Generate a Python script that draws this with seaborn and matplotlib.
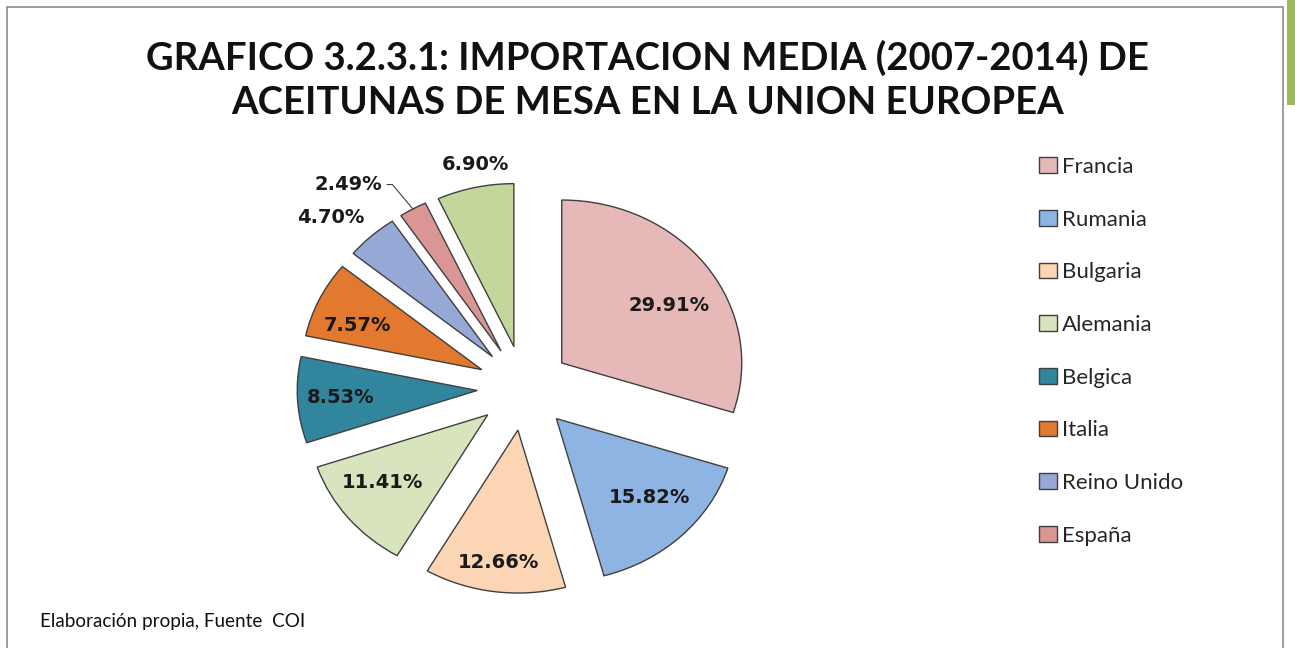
import numpy as np
import matplotlib.pyplot as plt
import matplotlib.patches as mpatches
import seaborn as sns

# data
paises = ["Francia", "Rumania", "Bulgaria", "Alemania", "Belgica",
          "Italia", "Reino Unido", "España", "Otros"]
cuota = [29.91, 15.82, 12.66, 11.41, 8.53, 7.57, 4.70, 2.49, 6.90]
colores = ["#E6B9B8", "#8EB4E3", "#FCD5B5", "#D7E4BD", "#31859C",
           "#E3782F", "#95A8D6", "#D99694", "#C3D69B"]

# label placement: distance from pie centre (radius units) and angle nudge (deg)
dist_etiqueta = [0.95, 0.97, 1.08, 0.98, 1.02, 1.00, 1.50, 1.60, 1.40]
giro_etiqueta = [-3.9, 2.2, 0, -2.8, 0, 3.0, 3.5, 0, -1.3]

sns.set_theme(style="white")
plt.rcParams["font.family"] = ["Lato", "DejaVu Sans"]

fig = plt.figure(figsize=(12.95, 6.48), dpi=100)
fig.patch.set_facecolor("white")

# outer frame and green strip, as in the source document
fig.add_artist(mpatches.Rectangle((7 / 1295, -0.1), 1276 / 1295, 1.1 - 7 / 648,
                                  transform=fig.transFigure, fill=False,
                                  edgecolor="#8c8c8c", lw=1.2))
fig.add_artist(mpatches.Rectangle((1287 / 1295, 1 - 105 / 648), 8 / 1295, 105 / 648,
                                  transform=fig.transFigure, color="#9BBB59", lw=0))

lbl_font = dict(family=["DejaVu Sans"], fontsize=14, fontweight="bold", color="#1a1a1a")

ax = fig.add_axes([0.1961, 0.0239, 0.417, 0.7546])
wedges, _, autotexts = ax.pie(
    cuota, colors=colores, startangle=90, counterclock=False,
    explode=[0.26] * len(cuota), autopct="%1.2f%%",
    wedgeprops=dict(edgecolor="#3f3f3f", linewidth=1.0),
    textprops=lbl_font,
)
ax.set_aspect("auto")
ax.set_xlim(-1.5, 1.5)
ax.set_ylim(-1.5, 1.5)
ax.axis("off")

for w, t, v, d, g in zip(wedges, autotexts, cuota, dist_etiqueta, giro_etiqueta):
    t.set_text(f"{v:.2f}%")
    ang = np.deg2rad((w.theta1 + w.theta2) / 2 + g)
    t.set_position((d * np.cos(ang), d * np.sin(ang)))

# España label sits off to the side with a leader line
w = wedges[7]
t = autotexts[7]
ang = np.deg2rad((w.theta1 + w.theta2) / 2)
cx, cy = w.center
borde = (cx + 1.0 * np.cos(ang), cy + 1.0 * np.sin(ang))
t.set_visible(False)
ax.annotate(t.get_text(), xy=borde,
            xytext=(borde[0] - 0.17, borde[1] + 0.15),
            ha="right", va="center", **lbl_font,
            arrowprops=dict(arrowstyle="-", color="#404040", lw=0.8,
                            shrinkA=1, shrinkB=0,
                            connectionstyle="angle,angleA=0,angleB=130"))

fig.text(0.5, 0.910, "GRAFICO 3.2.3.1: IMPORTACION MEDIA (2007-2014) DE",
         ha="center", va="center", fontsize=27.5, fontweight="bold", color="#111111")
fig.text(0.5, 0.841, "ACEITUNAS DE MESA EN LA UNION EUROPEA",
         ha="center", va="center", fontsize=27.5, fontweight="bold", color="#111111")

fig.text(40 / 1295, 1 - 622 / 648, "Elaboración propia, Fuente  COI",
         ha="left", va="center", fontsize=13.6, color="#111111")

leg = fig.legend(wedges[:8], paises[:8], loc="upper left",
                 bbox_to_anchor=(1019 / 1295, 1 - 137 / 648),
                 frameon=False, fontsize=16, labelspacing=1.47,
                 handlelength=0.8, handleheight=0.7, handletextpad=0.25)
for h in leg.legend_handles:
    h.set_edgecolor("#3f3f3f")
    h.set_linewidth(1.0)

fig.savefig("out.png", dpi=100, facecolor="white")
